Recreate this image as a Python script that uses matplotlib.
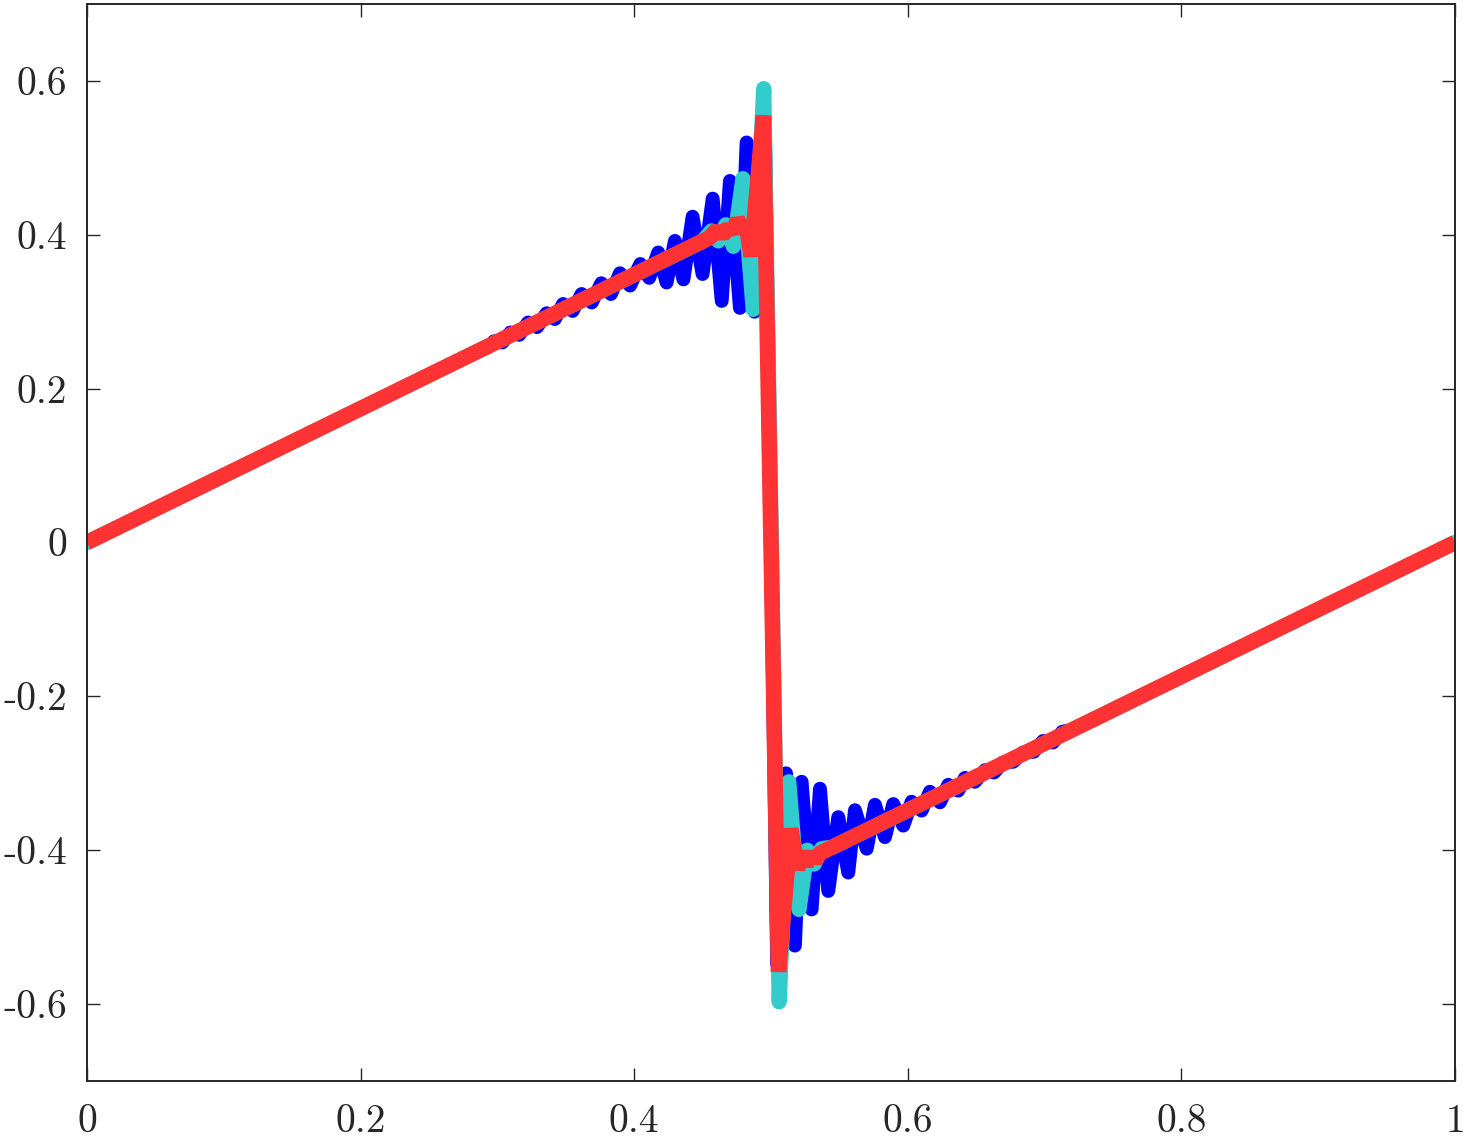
import matplotlib
matplotlib.use("Agg")
import matplotlib.pyplot as plt

# coarse approximation: strongest ringing (blue)
blue_x = [0.0, 0.287, 0.2935, 0.2975, 0.3035, 0.3095, 0.316, 0.3225, 0.329, 0.336, 0.342, 0.348,
          0.355, 0.3616, 0.369, 0.376, 0.383, 0.3896, 0.397, 0.4045, 0.411, 0.4176,
          0.4237, 0.4298, 0.436, 0.4427, 0.450, 0.4574, 0.464, 0.470, 0.4773, 0.4822,
          0.488, 0.4955, 0.5045, 0.511, 0.5175, 0.5224, 0.5297, 0.5358, 0.5419, 0.5492,
          0.5565, 0.5614, 0.570, 0.576, 0.5833, 0.5894, 0.5967, 0.6028, 0.6101, 0.6162,
          0.6235, 0.6296, 0.6369, 0.6418, 0.649, 0.6564, 0.663, 0.6696, 0.677, 0.6842,
          0.692, 0.699, 0.706, 0.713, 0.720, 1.0]
blue_y = [0.0, 0.2497, 0.254, 0.2615, 0.260, 0.273, 0.270, 0.286, 0.280, 0.298, 0.2905, 0.310,
          0.301, 0.323, 0.312, 0.337, 0.323, 0.350, 0.334, 0.362, 0.344, 0.377,
          0.338, 0.392, 0.342, 0.4235, 0.349, 0.447, 0.314, 0.470, 0.305, 0.520,
          0.300, 0.548, -0.548, -0.300, -0.524, -0.311, -0.477, -0.320, -0.453, -0.357,
          -0.429, -0.348, -0.398, -0.341, -0.383, -0.340, -0.368, -0.337, -0.3485, -0.324,
          -0.3377, -0.315, -0.3225, -0.306, -0.311, -0.296, -0.299, -0.286, -0.285, -0.273,
          -0.272, -0.258, -0.260, -0.246, -0.2436, 0.0]

# medium approximation (cyan)
cyan_x = [0.0, 0.45, 0.4565, 0.4615, 0.467, 0.4725, 0.4795, 0.487, 0.4947, 0.506,
          0.513, 0.5205, 0.5265, 0.5315, 0.537, 0.545, 1.0]
cyan_y = [0.0, 0.3915, 0.405, 0.392, 0.413, 0.385, 0.473, 0.303, 0.590, -0.597,
          -0.311, -0.477, -0.400, -0.418, -0.398, -0.396, 0.0]

# filtered approximation (red)
red_x = [0.0, 0.455, 0.4605, 0.4645, 0.469, 0.4725, 0.4755, 0.479, 0.4815, 0.4855,
         0.4945, 0.5055, 0.5145, 0.5195, 0.5225, 0.5255, 0.5285, 0.532, 0.536, 1.0]
red_y = [0.0, 0.396, 0.407, 0.399, 0.410, 0.403, 0.420, 0.409, 0.417, 0.372,
         0.555, -0.558, -0.372, -0.425, -0.402, -0.420, -0.404, -0.414, -0.4037, 0.0]

x_ticks = [0, 0.2, 0.4, 0.6, 0.8, 1]
x_labels = ['0', '0.2', '0.4', '0.6', '0.8', '1']
y_ticks = [-0.6, -0.4, -0.2, 0, 0.2, 0.4, 0.6]
y_labels = ['-0.6', '-0.4', '-0.2', '0', '0.2', '0.4', '0.6']

axis_color = '#262626'

fig = plt.figure(figsize=(14.66, 11.39), dpi=100)
ax = fig.add_axes([0.0593, 0.0509, 0.9332, 0.9456])

ax.plot(blue_x, blue_y, color=(0, 0, 1), lw=10,
        solid_joinstyle='round', solid_capstyle='round')
ax.plot(cyan_x, cyan_y, color=(0.2, 0.8, 0.8), lw=11,
        solid_joinstyle='round', solid_capstyle='round')
ax.plot(red_x, red_y, color=(1, 0.2, 0.2), lw=11.2,
        solid_joinstyle='bevel', solid_capstyle='butt')

ax.set_xlim(0, 1)
ax.set_ylim(-0.7, 0.7)
ax.set_xticks(x_ticks)
ax.set_xticklabels(x_labels)
ax.set_yticks(y_ticks)
ax.set_yticklabels(y_labels)

for s in ax.spines.values():
    s.set_color(axis_color)
    s.set_linewidth(1.4)

ax.tick_params(direction='in', length=9.4, width=1.0, top=True, right=True,
               color=axis_color, labelcolor=axis_color, labelsize=28.5)
ax.tick_params(axis='y', pad=14)
ax.tick_params(axis='x', pad=17)
for lab in ax.get_xticklabels() + ax.get_yticklabels():
    lab.set_family('cmr10')

fig.savefig('out.png', dpi=100)
